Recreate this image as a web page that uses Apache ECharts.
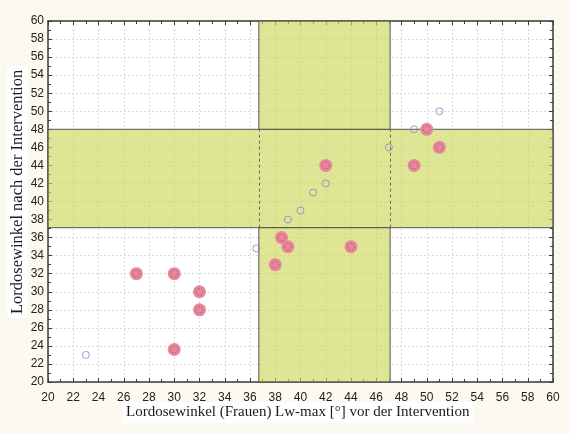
<!DOCTYPE html>
<html><head><meta charset="utf-8">
<script src="https://cdn.jsdelivr.net/npm/echarts@6/dist/echarts.min.js"></script>
<style>html,body{margin:0;padding:0;background:#fcf9f0;}#c{width:570px;height:434px;}</style>
</head><body><div id="c"></div>
<script>
// Data
const xTitle = 'Lordosewinkel (Frauen) Lw-max [°] vor der Intervention';
const yTitle = 'Lordosewinkel nach der Intervention';
const axisMin = 20, axisMax = 60, axisStep = 2;
const openPoints = [[23,23],[36.5,34.8],[39,38],[40,39],[41,41],[42,42],[47,46],[49,48],[51,50]];
const filledPoints = [[27,32],[30,32],[32,30],[32,28],[30,23.6],[38,33],[38.5,36],[39,35],[44,35],[42,44],[49,44],[50,48],[51,46]];
const xBand = [36.7, 47.1];
const yBand = [37.1, 48.0];

const chart = echarts.init(document.getElementById('c'));
const bandFill = 'rgba(206,218,100,0.68)';
const bandBorder = {color: bandFill, borderColor: '#555', borderWidth: 1};
function axisCommon(show) {
  return {
    min: axisMin, max: axisMax, interval: axisStep,
    axisLine: {show: true, onZero: false, lineStyle: {color: '#3a3a3a', width: 1.5}},
    axisTick: {show: true, inside: true, length: 4, lineStyle: {color: '#3a3a3a'}},
    minorTick: {show: true, splitNumber: 2, length: 3, lineStyle: {color: '#3a3a3a'}},
    axisLabel: {show: show, fontFamily: 'Liberation Sans', fontSize: 12, color: '#222'},
    splitLine: {show: show, lineStyle: {color: '#dadada', type: [2, 2]}}
  };
}
chart.setOption({
  animation: false,
  backgroundColor: '#fcf9f0',
  grid: {left: 48, right: 17, top: 21, bottom: 52, show: true, backgroundColor: '#ffffff', borderWidth: 0},
  xAxis: [
    Object.assign(axisCommon(true), {type: 'value', position: 'bottom', axisLabel: {fontFamily: 'Liberation Sans', fontSize: 12, color: '#222', margin: 10}}),
    Object.assign(axisCommon(false), {type: 'value', position: 'top'})
  ],
  yAxis: [
    Object.assign(axisCommon(true), {type: 'value', position: 'left', axisLabel: {fontFamily: 'Liberation Sans', fontSize: 12, color: '#222', margin: 4}}),
    Object.assign(axisCommon(false), {type: 'value', position: 'right'})
  ],
  series: [
    {
      type: 'scatter', z: 2, data: openPoints, symbol: 'circle', symbolSize: 7,
      itemStyle: {color: 'rgba(0,0,0,0)', borderColor: '#7f86c6', borderWidth: 1}
    },
    {
      type: 'scatter', z: 3, data: [], silent: true,
      markArea: {
        silent: true,
        itemStyle: bandBorder,
        data: [
          [{xAxis: axisMin, yAxis: yBand[0]}, {xAxis: axisMax, yAxis: yBand[1]}],
          [{xAxis: xBand[0], yAxis: yBand[1]}, {xAxis: xBand[1], yAxis: axisMax}],
          [{xAxis: xBand[0], yAxis: axisMin}, {xAxis: xBand[1], yAxis: yBand[0]}]
        ]
      },
      markLine: {
        silent: true, symbol: 'none', label: {show: false},
        lineStyle: {color: '#6b6b50', type: [3, 3], width: 1},
        data: [
          [{coord: [xBand[0], yBand[0]]}, {coord: [xBand[0], yBand[1]]}],
          [{coord: [xBand[1], yBand[0]]}, {coord: [xBand[1], yBand[1]]}]
        ]
      }
    },
    {
      type: 'scatter', z: 4, data: filledPoints, symbol: 'circle', symbolSize: 13,
      itemStyle: {color: '#e9879a', opacity: 1}
    },
    {
      type: 'scatter', z: 5, data: filledPoints, symbol: 'circle', symbolSize: 7, silent: true,
      itemStyle: {color: 'rgba(0,0,0,0)', borderColor: '#9b4c5e', borderWidth: 1, borderType: [1.5, 1.5]}
    }
  ],
  graphic: [
    {
      type: 'text', left: 122, top: 402, z: 10,
      style: {text: xTitle, fontFamily: 'Liberation Serif', fontSize: 15, fill: '#1a1a1a',
        backgroundColor: '#ffffff', padding: [3, 4]}
    },
    {
      type: 'text', x: 7, y: 318, rotation: Math.PI / 2, z: 10,
      style: {text: yTitle, fontFamily: 'Liberation Serif', fontSize: 16.5, fill: '#1a1a1a',
        backgroundColor: '#ffffff', padding: [2, 4], verticalAlign: 'top'}
    }
  ]
});
</script></body></html>
